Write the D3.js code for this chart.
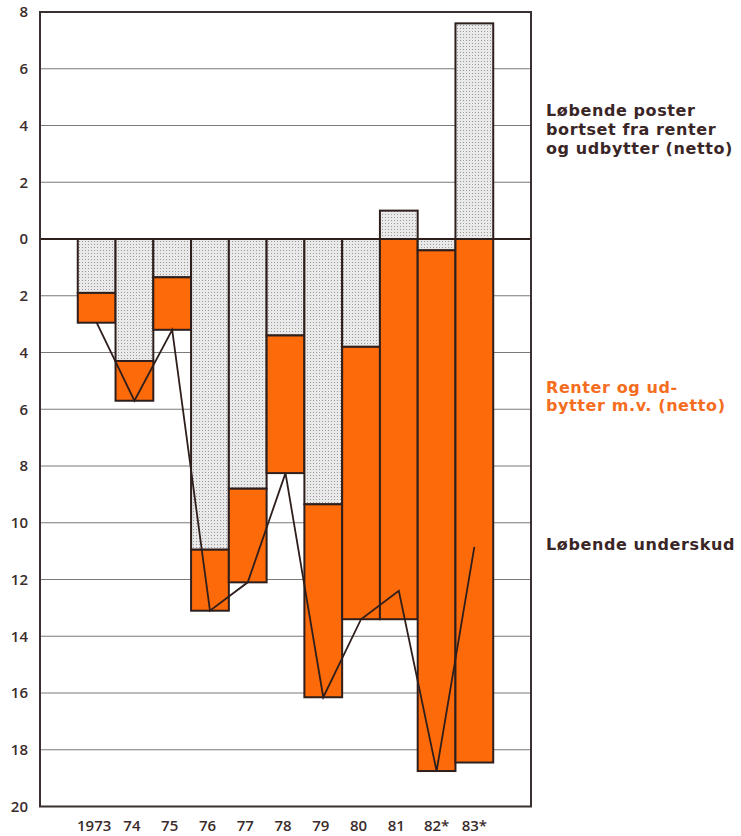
<!DOCTYPE html>
<html>
<head>
<meta charset="utf-8">
<script src="https://cdn.jsdelivr.net/npm/d3@7"></script>
<style>
  html, body { margin: 0; padding: 0; background: #ffffff; }
  #wrap { position: relative; width: 741px; height: 836px; overflow: hidden; }
  svg { display: block; position: absolute; left: 0; top: 0; }
  text { font-family: "Open Sans", Lato, sans-serif; }
  .legend { position: absolute; left: 546px; font-family: "DejaVu Sans", "Open Sans", sans-serif;
            font-weight: 700; font-size: 16px; line-height: 18.7px; letter-spacing: 0.6px;
            white-space: nowrap; margin: 0; padding: 0; }
</style>
</head>
<body>
<div id="wrap">
<svg id="chart" width="741" height="836"></svg>
</div>
<script>
// ---- data (billion kr.; negative = deficit, drawn downward) ----
const years = ["1973", "74", "75", "76", "77", "78", "79", "80", "81", "82*", "83*"];
// Løbende poster bortset fra renter og udbytter (netto)
const posterValues = [-1.9, -4.3, -1.35, -10.95, -8.8, -3.4, -9.35, -3.8, 1.0, -0.4, 7.6];
// Renter og udbytter m.v. (netto)
const renterValues = [-1.05, -1.4, -1.85, -2.15, -3.3, -4.85, -6.8, -9.6, -13.4, -18.35, -18.45];
// Løbende underskud (net), drawn as line
const underskudValues = years.map((_, i) => posterValues[i] + renterValues[i]);
const yTicks = [8, 6, 4, 2, 0, -2, -4, -6, -8, -10, -12, -14, -16, -18, -20];
const legendPoster = ["Løbende poster", "bortset fra renter", "og udbytter (netto)"];
const legendRenter = ["Renter og ud-", "bytter m.v. (netto)"];
const legendUnderskud = ["Løbende underskud"];

// ---- layout ----
const plotLeft = 40, plotRight = 531, plotTop = 12, plotBottom = 806.5;
const svg = d3.select("#chart");

const x = d3.scaleBand().domain(years).range([plotLeft, plotRight]).paddingInner(0).paddingOuter(1);
const y = d3.scaleLinear().domain([8, -20]).range([plotTop, plotBottom]);

const orange = "#fd6a0a";
const ink = "#2e1f1c";

// stipple pattern
const defs = svg.append("defs");
const pat = defs.append("pattern").attr("id", "stipple").attr("patternUnits", "userSpaceOnUse")
  .attr("width", 3).attr("height", 3);
pat.append("rect").attr("width", 3).attr("height", 3).attr("fill", "#e9e9e9");
pat.append("rect").attr("x", 1).attr("y", 1).attr("width", 1).attr("height", 1).attr("fill", "#9a9a9a");

// grid lines
svg.append("g").selectAll("line").data(yTicks.filter(t => t !== 8 && t !== -20 && t !== 0)).join("line")
  .attr("x1", plotLeft).attr("x2", plotRight)
  .attr("y1", d => y(d)).attr("y2", d => y(d))
  .attr("stroke", "#7a7a7a").attr("stroke-width", 1.2);

// y labels
svg.append("g").selectAll("text").data(yTicks).join("text")
  .attr("x", 28).attr("y", d => y(d)).attr("dy", "0.36em")
  .attr("text-anchor", "end")
  .attr("font-size", 15).attr("font-weight", 600).attr("fill", "#3b2c2c")
  .text(d => Math.abs(d));

// bars: poster (stippled) from 0; renter (orange) stacked after poster if poster negative, else from 0
const bw = x.bandwidth();
const bars = svg.append("g");
years.forEach((yr, i) => {
  const p = posterValues[i], r = renterValues[i];
  const pTop = Math.max(0, p), pBot = Math.min(0, p);
  bars.append("rect")
    .attr("x", x(yr)).attr("width", bw)
    .attr("y", y(pTop)).attr("height", y(pBot) - y(pTop))
    .attr("fill", "url(#stipple)").attr("stroke", ink).attr("stroke-width", 2);
  const rStart = Math.min(0, p);
  bars.append("rect")
    .attr("x", x(yr)).attr("width", bw)
    .attr("y", y(rStart)).attr("height", y(rStart + r) - y(rStart))
    .attr("fill", orange).attr("stroke", ink).attr("stroke-width", 2);
});

// zero line
svg.append("line").attr("x1", plotLeft).attr("x2", plotRight).attr("y1", y(0)).attr("y2", y(0))
  .attr("stroke", ink).attr("stroke-width", 1.8);

// underskud line
const line = d3.line().x((d, i) => x(years[i]) + bw / 2).y(d => y(d));
svg.append("path").datum(underskudValues).attr("d", line)
  .attr("fill", "none").attr("stroke", ink).attr("stroke-width", 1.8).attr("stroke-linejoin", "miter");

// frame
svg.append("rect").attr("x", plotLeft).attr("y", plotTop).attr("width", plotRight - plotLeft).attr("height", plotBottom - plotTop)
  .attr("fill", "none").attr("stroke", "#3a3030").attr("stroke-width", 2);

// x labels
svg.append("g").selectAll("text").data(years).join("text")
  .attr("x", d => x(d) + bw / 2 - (d.endsWith("*") ? 0 : 2.5)).attr("y", 831)
  .attr("text-anchor", "middle")
  .attr("font-size", 15).attr("font-weight", 600).attr("fill", "#3b2c2c")
  .text(d => d);

// legend blocks (one HTML element per block, lines separated by <br>)
function legend(lines, baseline, color) {
  const div = d3.select("#wrap").append("div").attr("class", "legend")
    .style("top", (baseline - 14.85) + "px").style("color", color);
  lines.forEach((l, i) => {
    if (i > 0) div.append("br");
    div.append("span").text(l);
  });
}
legend(legendPoster, 117, "#3a2626");
legend(legendRenter, 393.5, "#f56d1e");
legend(legendUnderskud, 550.5, "#3a2626");
</script>
</body>
</html>
